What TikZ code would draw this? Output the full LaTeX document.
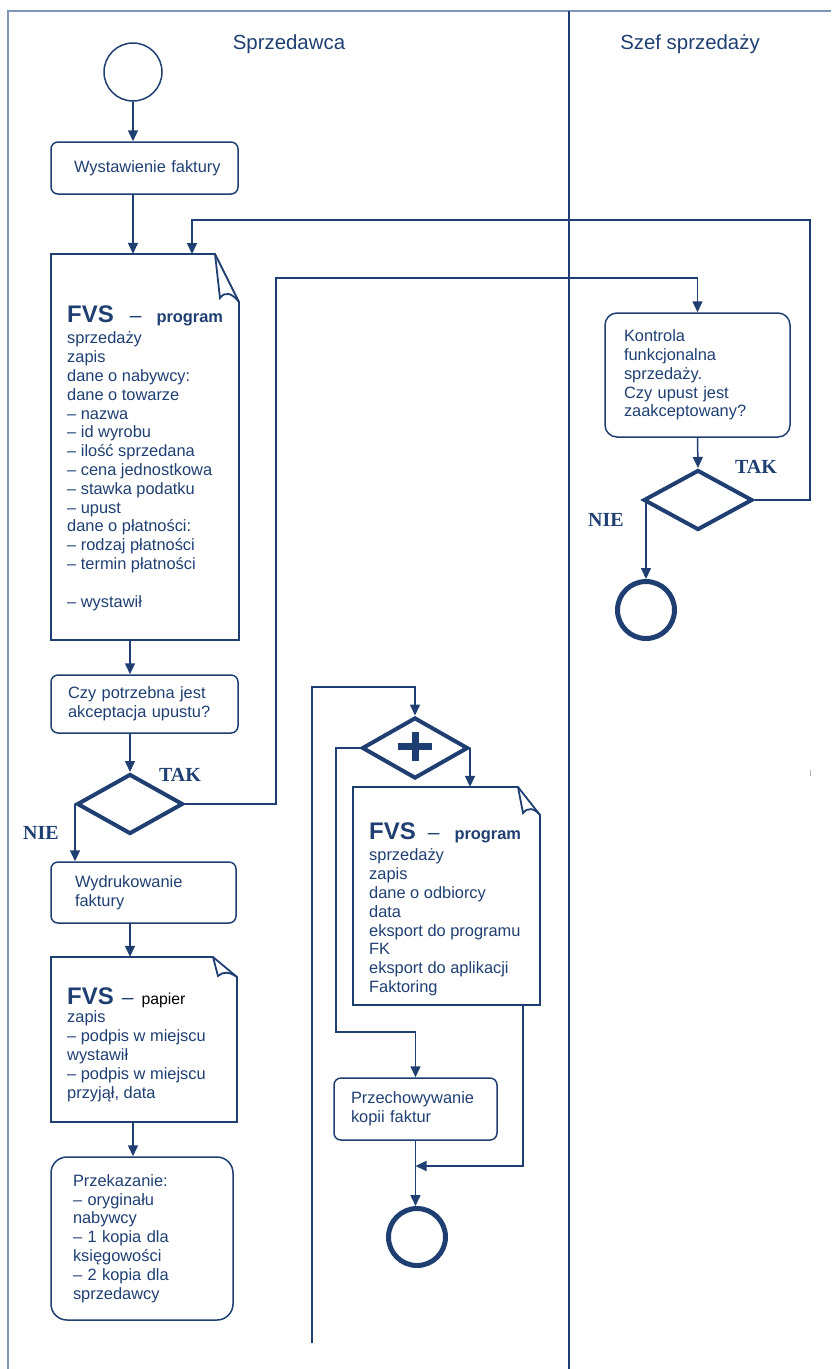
\documentclass[tikz,border=0pt]{standalone}
\usepackage{fontspec}
\setmainfont{Liberation Sans}
\newfontfamily\tnr{Liberation Serif}
\usetikzlibrary{arrows.meta,shapes.geometric}

\definecolor{dblue}{RGB}{31,63,114}
\definecolor{lanecol}{RGB}{128,150,185}
\newcommand{\txt}{\fontsize{16.4}{18.8}\selectfont}
\newcommand{\fvs}{\fontsize{24}{24}\selectfont\bfseries}
\newcommand{\dash}{{\fontsize{21}{21}\selectfont –}}

\tikzset{
  proc/.style={draw=dblue, line width=1.5pt, rounded corners=7pt, font=\txt, text=dblue, align=left, inner ysep=0pt},
  doctxt/.style={anchor=north west, inner sep=0pt, font=\txt, text=dblue, align=left},
  docline/.style={draw=dblue, line width=1.8pt, line join=miter},
  decision/.style={diamond, draw=dblue, line width=4pt, inner sep=0pt},
  endpt/.style={circle, draw=dblue, line width=5pt, minimum size=57pt, inner sep=0pt},
  arr/.style={draw=dblue, line width=1.5pt, -{Triangle[length=11pt,width=10pt]}},
  lbl/.style={text=dblue, font=\tnr\bfseries\fontsize{20}{20}\selectfont}
}

\begin{document}
\begin{tikzpicture}[x=1pt,y=-1pt]
      \useasboundingbox (0,0) rectangle (831,1369);

      \draw[lanecol, line width=2pt] (8,1369) -- (8,11) -- (831,11);
      \draw[dblue, line width=1.2pt] (569,11) -- (569,1369);
      \node[text=dblue, font=\fontsize{20.4}{24}\selectfont] (lane1) at (289,44) {Sprzedawca};
      \node[text=dblue, font=\fontsize{20.4}{24}\selectfont] (lane2) at (690,44) {Szef sprzedaży};

      % Sprzedawca
      \node[circle, draw=dblue, line width=1.5pt, minimum size=58pt, inner sep=0pt] (start) at (133,72) {};
      \node[proc, minimum width=187pt, minimum height=52pt, text width=141pt, inner xsep=23pt] (wyst) at (144.5,168) {\mbox{Wystawienie faktury}};

      \node[minimum width=188pt, minimum height=386pt, inner sep=0pt] (doc1) at (145,447) {};
      \draw[docline] (51,640) -- (51,254) -- (215,254) -- (239,302) -- (239,640) -- cycle;
      \draw[docline] (215,254) -- (220,298) .. controls (225,291) and (232,293) .. (239,302);
      \node[doctxt] (doc1txt) at (67,305.5) {{\fvs FVS}\hspace{16pt}\dash\hspace{15pt}{\bfseries program}\\[2.7pt]
        sprzedaży\\ zapis\\ dane o nabywcy:\\ dane o towarze\\ – nazwa\\ – id wyrobu\\ – ilość sprzedana\\
        – cena jednostkowa\\ – stawka podatku\\ – upust\\ dane o płatności:\\ – rodzaj płatności\\
        – termin płatności\\[18.8pt] – wystawił};

      \node[proc, minimum width=187pt, minimum height=58pt, text width=153pt, inner xsep=17pt] (czy) at (144.5,704) {Czy potrzebna jest\\ akceptacja upustu?};
      \node[decision, minimum width=106pt, minimum height=60pt] (d1) at (130,804) {};
      \node[lbl] (tak1) at (180,775) {TAK};
      \node[lbl] (nie1) at (41,833) {NIE};

      \node[proc, minimum width=185pt, minimum height=61pt, text width=137pt, inner xsep=24pt] (wydr) at (143.5,892.5) {Wydrukowanie\\ faktury};

      \node[minimum width=186pt, minimum height=165pt, inner sep=0pt] (doc2) at (144,1039.5) {};
      \draw[docline] (51,1122) -- (51,957) -- (213,957) -- (237,977) -- (237,1122) -- cycle;
      \draw[docline] (213,957) -- (218,976) .. controls (223,971) and (230,972) .. (237,977);
      \node[doctxt] (doc2txt) at (67,988) {{\fvs FVS}\hspace{8pt}\dash\hspace{8pt}{\color{black}\fontsize{15.8}{18}\selectfont papier}\\[-0.8pt]
        zapis\\ – podpis w miejscu\\ wystawił\\ – podpis w miejscu\\ przyjął, data};

      \node[proc, rounded corners=16pt, minimum width=182pt, minimum height=163pt, text width=138pt, inner xsep=22pt] (przek) at (142,1238.5) {Przekazanie:\\ – oryginału\\ nabywcy\\ – 1 kopia dla\\ księgowości\\ – 2 kopia dla\\ sprzedawcy};

      % srodkowa kolumna
      \node[decision, minimum width=106pt, minimum height=61pt] (dplus) at (415,748) {};
      \draw[dblue, line width=7pt] (398,746.5) -- (432,746.5);
      \draw[dblue, line width=7pt] (415,732) -- (415,761);

      \node[minimum width=187pt, minimum height=218pt, inner sep=0pt] (doc3) at (446.5,896) {};
      \draw[docline] (353,1005) -- (353,787) -- (518,787) -- (540,815) -- (540,1005) -- cycle;
      \draw[docline] (518,787) -- (523,813) .. controls (528,807) and (534,808) .. (540,815);
      \node[doctxt] (doc3txt) at (369,823) {{\fvs FVS}\hspace{12pt}\dash\hspace{15pt}{\bfseries program}\\[2.2pt]
        sprzedaży\\ zapis\\ dane o odbiorcy\\ data\\ eksport do programu\\ FK\\ eksport do aplikacji\\ Faktoring};

      \node[proc, minimum width=163pt, minimum height=62pt, text width=129pt, inner xsep=17pt] (przech) at (415.5,1109) {Przechowywanie\\ kopii faktur};
      \node[endpt] (end3) at (417,1237) {};

      % Szef sprzedazy
      \node[proc, rounded corners=12pt, minimum width=185pt, minimum height=124pt, text width=147pt, inner xsep=19pt] (kontr) at (697.5,375) {Kontrola\\ funkcjonalna\\ sprzedaży.\\ Czy upust jest\\ zaakceptowany?};
      \node[decision, minimum width=109pt, minimum height=60pt] (d2) at (698,500) {};
      \node[lbl] (tak2) at (756,467) {TAK};
      \node[lbl] (nie2) at (606,520) {NIE};
      \node[endpt] (end2) at (646,610) {};

      \coordinate (in1) at (192,254);
      \coordinate (loopR) at (810,220);
      \coordinate (bend1) at (276,278);
      \coordinate (top3) at (312,687);
      \coordinate (bot3) at (312,1343);
      \coordinate (lft3) at (336,1032);
      \coordinate (out3) at (523,1005);
      \coordinate (join3) at (415.5,1166);

      \draw[arr] (start.south) -- (start.south |- wyst.north);
      \draw[arr] (wyst.south -| start) -- (doc1.north -| start);
      \draw[arr] (d2.east) -| (loopR) -| (in1);
      \draw[arr] (doc1.south -| d1) -- (czy.north -| d1);
      \draw[arr] (czy.south -| d1) -- (d1.north);
      \draw[arr] (d1.east) -| (bend1) -| (kontr.north);
      \draw[arr] (d1.west) -- (d1.west |- wydr.north);
      \draw[arr] (wydr.south -| d1) -- (doc2.north -| d1);
      \draw[arr] (doc2.south -| start) -- (przek.north -| start);

      \draw[arr] (bot3) -- (top3) -| (dplus.north);
      \draw[arr] (dplus.east) -- (dplus.east |- doc3.north);
      \draw[arr] (dplus.west) -| (lft3) -| (przech.north);
      \draw[arr] (out3) |- (join3);
      \draw[arr] (przech.south) -- (przech.south |- end3.north);

      \draw[arr] (kontr.south) -- (d2.north);
      \draw[arr] (d2.west -| end2) -- (end2.north);

      \draw[gray!60, line width=1pt] (810,770) -- (810,776);
\end{tikzpicture}
\end{document}
